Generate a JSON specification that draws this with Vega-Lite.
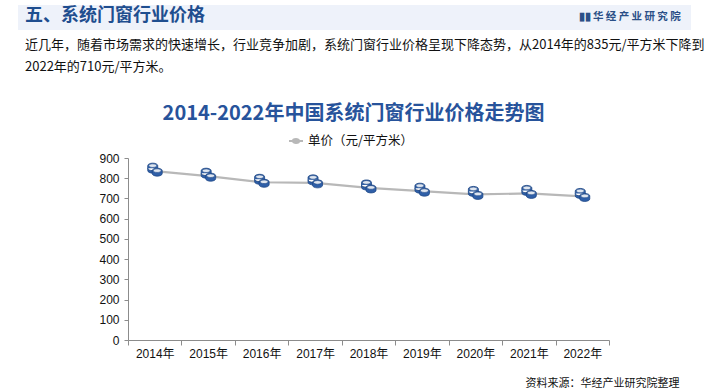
{
  "$schema": "https://vega.github.io/schema/vega-lite/v6.json",
  "autosize": "none",
  "padding": {"left": 128, "top": 158, "right": 96, "bottom": 52},
  "width": 481,
  "height": 182,
  "background": "white",
  "config": {"view": {"stroke": null}},
  "title": {
    "text": "五、系统门窗行业价格",
    "subtitle": ["近几年，随着市场需求的快速增长，行业竞争加剧，系统门窗行业价格呈现下降态势，从2014年的835元/平方米下降到", "2022年的710元/平方米。"],
    "anchor": "start",
    "frame": "group",
    "orient": "top",
    "offset": 0,
    "dx": -103,
    "dy": 69,
    "font": "Noto Sans CJK SC",
    "fontSize": 18,
    "fontWeight": "bold",
    "color": "#1f4e8f",
    "subtitleFont": "Noto Sans CJK SC",
    "subtitleFontSize": 13,
    "subtitleColor": "#111111",
    "subtitleLineHeight": 22,
    "subtitlePadding": 14
  },
  "data": {"values": [
    {"year": "2014年", "price": 835, "series": "单价（元/平方米）", "org": "华经产业研究院"},
    {"year": "2015年", "price": 810, "series": "单价（元/平方米）", "org": "华经产业研究院"},
    {"year": "2016年", "price": 780, "series": "单价（元/平方米）", "org": "华经产业研究院"},
    {"year": "2017年", "price": 777, "series": "单价（元/平方米）", "org": "华经产业研究院"},
    {"year": "2018年", "price": 752, "series": "单价（元/平方米）", "org": "华经产业研究院"},
    {"year": "2019年", "price": 736, "series": "单价（元/平方米）", "org": "华经产业研究院"},
    {"year": "2020年", "price": 720, "series": "单价（元/平方米）", "org": "华经产业研究院"},
    {"year": "2021年", "price": 725, "series": "单价（元/平方米）", "org": "华经产业研究院"},
    {"year": "2022年", "price": 710, "series": "单价（元/平方米）", "org": "华经产业研究院"}
  ]},
  "encoding": {
    "y": {
      "field": "price", "type": "quantitative",
      "scale": {"domain": [0, 900], "nice": false, "zero": true},
      "axis": {
        "values": [0, 100, 200, 300, 400, 500, 600, 700, 800, 900],
        "grid": false,
        "domainColor": "#8c8c8c",
        "tickColor": "#8c8c8c",
        "tickSize": 4,
        "labelPadding": 5,
        "labelFont": "Liberation Sans",
        "labelFontSize": 12,
        "labelColor": "#111111",
        "title": "2014-2022年中国系统门窗行业价格走势图",
        "titleAngle": 0,
        "titleX": 225,
        "titleY": -45,
        "titleAlign": "center",
        "titleBaseline": "middle",
        "titleFont": "Noto Sans CJK SC",
        "titleFontSize": 20,
        "titleFontWeight": "bold",
        "titleColor": "#27539b"
      }
    }
  },
  "layer": [
    {
      "mark": {"type": "line", "stroke": "#b8b8b8", "strokeWidth": 2.2},
      "encoding": {
        "x": {
          "field": "year", "type": "ordinal",
          "scale": {"type": "band", "paddingInner": 0, "paddingOuter": 0},
          "axis": {
            "orient": "bottom",
            "tickBand": "extent",
            "labelAngle": 0,
            "domainColor": "#8c8c8c",
            "tickColor": "#8c8c8c",
            "tickSize": 5,
            "labelPadding": 3,
            "labelFont": "Liberation Sans, Noto Sans CJK SC",
            "labelFontSize": 12,
            "labelColor": "#111111",
            "title": "资料来源：华经产业研究院整理",
            "titleX": 551,
            "titleY": 43,
            "titleAlign": "right",
            "titleBaseline": "middle",
            "titleFont": "Noto Sans CJK SC",
            "titleFontSize": 11,
            "titleFontWeight": "normal",
            "titleColor": "#111111"
          }
        },
        "stroke": {
          "field": "series", "type": "nominal",
          "scale": {"range": ["#b8b8b8"]},
          "legend": {
            "orient": "none",
            "legendX": 160,
            "legendY": -25,
            "direction": "horizontal",
            "title": null,
            "padding": 0,
            "symbolType": "M-1,0 L1,0 M-0.45,0 A0.45,0.28 0 1 1 0.45,0 A0.45,0.28 0 1 1 -0.45,0 Z",
            "symbolSize": 196,
            "symbolStrokeWidth": 2,
            "labelFont": "Noto Sans CJK SC",
            "labelFontSize": 12.5,
            "labelColor": "#111111",
            "labelOffset": 4,
            "encode": {"symbols": {"update": {"fill": {"value": "#2f5fa8"}, "stroke": {"value": "#b8b8b8"}}}}
          }
        }
      }
    },
    {
      "mark": {"type": "point", "shape": "M-7,-5.5 A5,2.5 0 0 1 3,-5.5 L3,-0.5 A5,2.5 0 0 1 -7,-0.5 Z M-7,-3 A5,2.5 0 0 0 3,-3", "size": 4, "filled": true, "fill": "#2f5fa8", "stroke": "#1d4685", "strokeWidth": 0.8},
      "encoding": {
        "x": {"field": "year", "type": "ordinal", "scale": {"type": "band", "paddingInner": 0, "paddingOuter": 0}, "axis": null},
        "opacity": {
          "field": "org", "type": "nominal",
          "scale": {"range": [1]},
          "legend": {
            "orient": "none",
            "legendX": -110,
            "legendY": -153,
            "direction": "horizontal",
            "fillColor": "#eef2fa",
            "strokeColor": null,
            "padding": 7,
            "title": null,
            "symbolSize": 0,
            "symbolOpacity": 0,
            "symbolStrokeWidth": 0,
            "labelOffset": 543,
            "labelExpr": "'▮▮  华 经 产 业 研 究 院'",
            "labelFont": "Noto Sans CJK SC",
            "labelFontSize": 10.5,
            "labelFontWeight": "bold",
            "labelColor": "#2a4f87",
            "labelLimit": 200
          }
        }
      }
    },
    {
      "mark": {"type": "point", "shape": "M-6,-5.5 A4,1.8 0 1 1 2,-5.5 A4,1.8 0 1 1 -6,-5.5 Z", "size": 4, "filled": true, "fill": "#dfe6f0", "stroke": "#1d4685", "strokeWidth": 0.6, "opacity": 1},
      "encoding": {
        "x": {"field": "year", "type": "ordinal", "scale": {"type": "band", "paddingInner": 0, "paddingOuter": 0}, "axis": null}
      }
    },
    {
      "mark": {"type": "point", "shape": "M-2.5,-0.5 A5,2.5 0 0 1 7.5,-0.5 L7.5,2.5 A5,2.5 0 0 1 -2.5,2.5 Z", "size": 4, "filled": true, "fill": "#2f5fa8", "stroke": "#1d4685", "strokeWidth": 0.8, "opacity": 1},
      "encoding": {
        "x": {"field": "year", "type": "ordinal", "scale": {"type": "band", "paddingInner": 0, "paddingOuter": 0}, "axis": null}
      }
    },
    {
      "mark": {"type": "point", "shape": "M-1.5,-0.5 A4,1.8 0 1 1 6.5,-0.5 A4,1.8 0 1 1 -1.5,-0.5 Z", "size": 4, "filled": true, "fill": "#dfe6f0", "stroke": "#1d4685", "strokeWidth": 0.6, "opacity": 1},
      "encoding": {
        "x": {"field": "year", "type": "ordinal", "scale": {"type": "band", "paddingInner": 0, "paddingOuter": 0}, "axis": null}
      }
    }
  ],
  "resolve": {"axis": {"x": "independent"}}
}
